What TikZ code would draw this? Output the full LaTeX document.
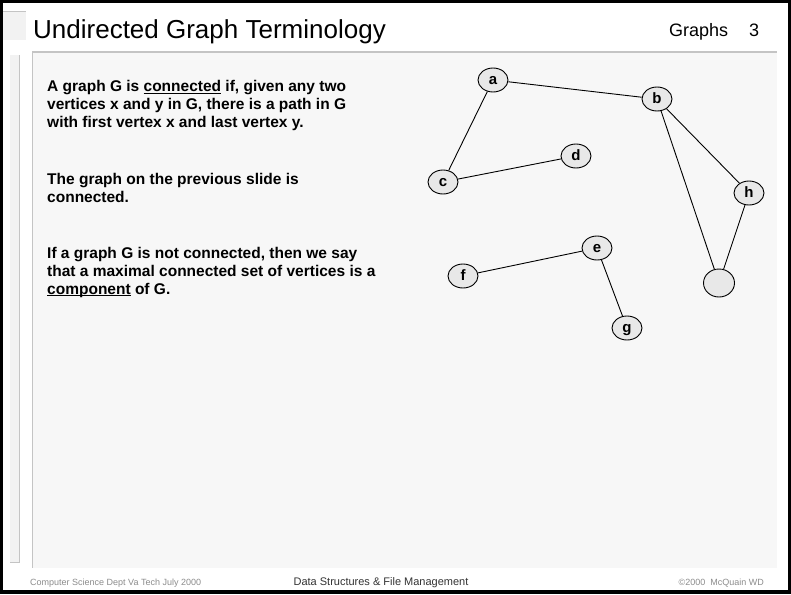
\documentclass[tikz,border=0pt]{standalone}
\usepackage{fontspec}
\setmainfont{Liberation Sans}
\usetikzlibrary{shapes.geometric}
\definecolor{panelgray}{HTML}{F7F7F7}
\definecolor{rulegray}{HTML}{C4C4C4}
\definecolor{stripgray}{HTML}{F2F2F2}
\definecolor{vertgray}{HTML}{E8E8E8}
\definecolor{footgray}{HTML}{8C8C8C}
\tikzset{vert/.style={ellipse, draw, line width=0.9pt, fill=vertgray, minimum width=30, minimum height=24, inner sep=0, text height=9pt, text depth=0pt, font=\bfseries\fontsize{15}{15}\selectfont}}
\tikzset{edge/.style={draw, line width=0.9pt}}
\tikzset{para/.style={anchor=north west, inner sep=0, align=left, font=\bfseries\fontsize{15.5}{17.8}\selectfont}}
\tikzset{foot/.style={inner sep=0, font=\fontsize{9}{9}\selectfont, text=footgray}}
\newcommand{\undl}[1]{\setbox0=\hbox{#1}\rlap{\rule[-2pt]{\wd0}{1.2pt}}\box0\relax}

\begin{document}
\begin{tikzpicture}[x=1pt, y=-1pt]
	\useasboundingbox (0,0) rectangle (791,594);
	% frame and slide panel
	\fill[black] (0,0) rectangle (791,594);
	\fill[white] (3,3) rectangle (788,590);
	\fill[panelgray] (32,52) rectangle (777,568);
	\draw[rulegray, line width=1.5pt] (32,52) -- (777,52);
	\draw[rulegray, line width=1pt] (32,52) -- (32,568);
	\fill[stripgray] (3,12) rectangle (26,40);
	\draw[rulegray, line width=1pt] (3,12) -- (26,12);
	\fill[stripgray] (10,55) rectangle (19,562);
	\draw[rulegray, line width=1pt] (19,55) -- (19,562) -- (10,562);

	\node[anchor=base west, inner sep=0, font=\fontsize{26}{26}\selectfont] (title) at (33,38) {Undirected Graph Terminology};
	\node[anchor=base west, inner sep=0, font=\fontsize{18}{18}\selectfont] (topic) at (669,37) {Graphs};
	\node[anchor=base west, inner sep=0, font=\fontsize{18}{18}\selectfont] (pageno) at (749,37) {3};

	\node[para] (connected) at (47,80.5) {A graph G is \undl{connected} if, given any two\\vertices x and y in G, there is a path in G\\with first vertex x and last vertex y.};
	\node[para] (previous) at (47,173) {The graph on the previous slide is\\connected.};
	\node[para] (component) at (47,247) {If a graph G is not connected, then we say\\that a maximal connected set of vertices is a\\\undl{component} of G.};

	\node[vert] (a) at (493,80) {a};
	\node[vert] (b) at (657,99) {b};
	\node[vert] (c) at (443,182) {c};
	\node[vert] (d) at (576,156) {d};
	\node[vert] (h) at (749,193) {h};
	\node[vert, minimum width=31, minimum height=28] (z) at (719,283) {};
	\node[vert] (e) at (597,248) {e};
	\node[vert] (f) at (463,276) {f};
	\node[vert] (g) at (627,328) {g};

	\draw[edge] (a) to (b);
	\draw[edge] (a) to (c);
	\draw[edge] (c) to (d);
	\draw[edge] (b) to (h);
	\draw[edge] (b) to (z);
	\draw[edge] (h) to (z);
	\draw[edge] (e) to (f);
	\draw[edge] (e) to (g);

	\node[foot, anchor=base west] (dept) at (30,585) {Computer Science Dept Va Tech July 2000};
	\node[foot, anchor=base, text=black!80, font=\fontsize{11}{11}\selectfont] (course) at (381,585) {Data Structures \& File Management};
	\node[foot, anchor=base east] (author) at (764,585) {©2000\ \ McQuain WD};
\end{tikzpicture}
\end{document}
